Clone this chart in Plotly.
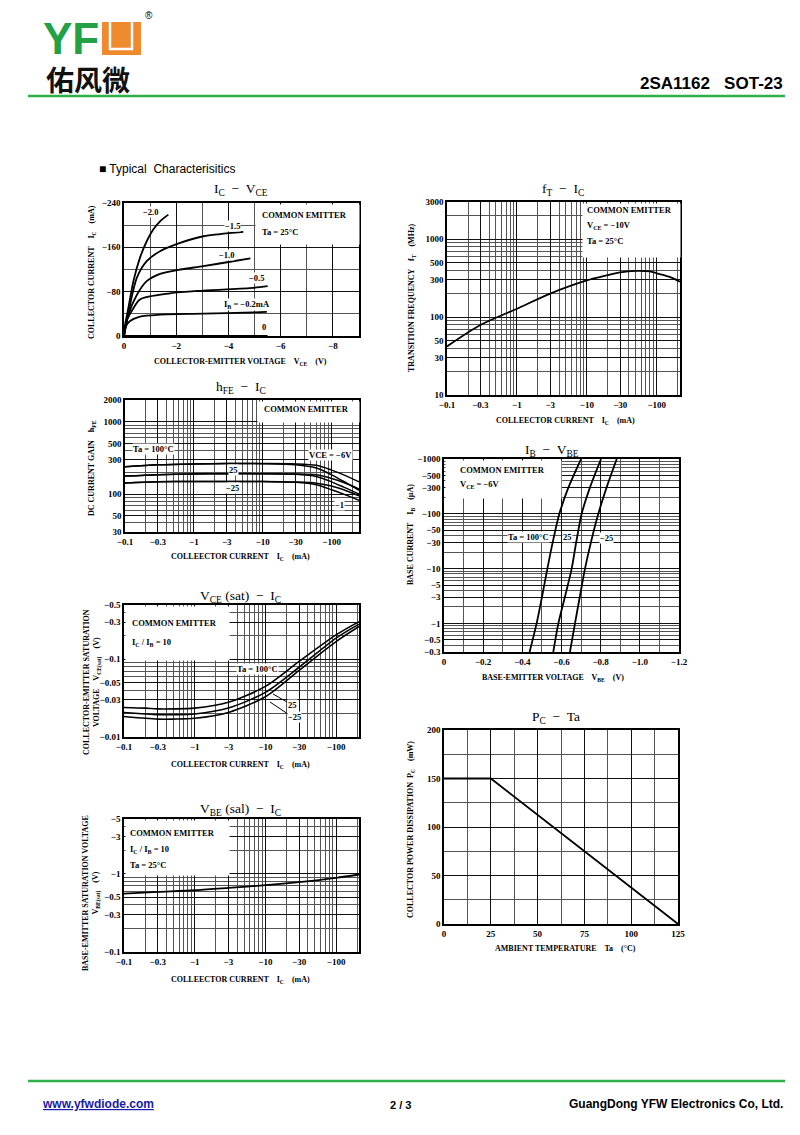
import math
import plotly.graph_objects as go

# page is 800x1135; the html body adds an 8px margin, so the figure is 792x1127 placed at (8,8)
OFF = 8
FW, FH = 800 - OFF, 1135 - OFF
SERIF = "Liberation Serif"
SANS = "Liberation Sans"
MINUS = "\u2212"

# ---------------- DATA ----------------
# Chart 1: IC - VCE  (VCE in V, IC in mA; negative values, PNP)
c1_v_ib20 = [0, -0.04, -0.165, -0.36, -0.61, -0.87, -1.12, -1.38, -1.70]
c1_i_ib20 = [0, -20, -50, -99, -141, -171, -192, -207, -219]
c1_v_ib15 = [0, -0.23, -0.49, -0.87, -1.38, -2.15, -3.04, -3.68, -4.57]
c1_i_ib15 = [0, -56, -105, -135, -153, -168, -180, -184, -188]
c1_v_ib10 = [0, -0.165, -0.49, -0.87, -1.38, -2.15, -3.04, -4.06, -4.84]
c1_i_ib10 = [0, -38, -74, -99, -112, -120, -126, -134, -140]
c1_v_ib05 = [0, -0.1, -0.36, -0.61, -1.76, -3.04, -4.95, -5.5]
c1_i_ib05 = [0, -27, -50, -66, -77, -82, -87, -90]
c1_v_ib02 = [0, -0.08, -0.23, -0.61, -1.38, -3.04, -4.95, -5.47]
c1_i_ib02 = [0, -18, -27, -35, -38.5, -40.3, -42.7, -43.5]
c1_v_ib00 = [0, -5.5]
c1_i_ib00 = [0, 0]

# Chart 2: hFE - IC  (|IC| in mA)
c2_ic = [0.1, 0.3, 1, 3, 10, 30, 60, 100, 150, 250]
c2_h100_6 = [240, 255, 262, 265, 265, 262, 250, 215, 185, 148]
c2_h100_1 = [240, 255, 262, 265, 264, 255, 230, 185, 150, 113]
c2_h25_6 = [178, 186, 190, 192, 192, 190, 185, 165, 145, 118]
c2_h25_1 = [178, 186, 190, 192, 191, 188, 175, 148, 125, 100]
c2_hm25_6 = [143, 148, 150, 150, 150, 147, 142, 130, 115, 95]
c2_hm25_1 = [143, 148, 150, 150, 149, 146, 135, 115, 100, 82]

# Chart 3: VCE(sat) - IC  (|IC| mA, |VCE(sat)| V)
c3_ic = [0.1, 0.2, 0.3, 0.5, 1, 3, 10, 30, 100, 211]
c3_v100 = [0.024, 0.0235, 0.023, 0.023, 0.0235, 0.028, 0.0448, 0.094, 0.206, 0.305]
c3_v25 = [0.0207, 0.0198, 0.0194, 0.0194, 0.0198, 0.0236, 0.0375, 0.079, 0.187, 0.283]
c3_vm25 = [0.0184, 0.0174, 0.017, 0.017, 0.0174, 0.0207, 0.033, 0.072, 0.169, 0.264]

# Chart 4: VBE(sat) - IC
c4_ic = [0.1, 0.3, 1, 3, 10, 30, 100, 211]
c4_vbe = [0.557, 0.585, 0.615, 0.66, 0.713, 0.78, 0.885, 0.977]

# Chart 5: fT - IC
c5_ic = [0.1, 0.3, 1, 3, 10, 20, 30, 50, 80, 100, 150, 215]
c5_ft = [42, 79, 128, 200, 295, 345, 375, 392, 385, 365, 330, 285]

# Chart 6: IB - VBE  (|IB| uA, VBE V)
c6_ib = [0.3, 1, 3, 10, 30, 100, 300, 1000]
c6_v100 = [-0.437, -0.473, -0.50, -0.528, -0.555, -0.589, -0.635, -0.70]
c6_v25 = [-0.558, -0.584, -0.617, -0.652, -0.675, -0.703, -0.745, -0.802]
c6_vm25 = [-0.643, -0.669, -0.693, -0.72, -0.75, -0.788, -0.83, -0.882]

# Chart 7: PC - Ta
c7_ta = [0, 25, 125]
c7_pc = [150, 150, 0]

# tick labels
log_ic_vals = [0.1, 0.3, 1, 3, 10, 30, 100]
log_ic_text = [MINUS + "0.1", MINUS + "0.3", MINUS + "1", MINUS + "3", MINUS + "10", MINUS + "30", MINUS + "100"]

# ---------------- HELPERS ----------------
def fx(x):
    return (x - OFF) / FW

def fy(y):
    return 1 - (y - OFF) / FH

def dom_x(a, b):
    return [fx(a), fx(b)]

def dom_y(top, bottom):
    return [fy(bottom), fy(top)]

TICKFONT = dict(family=SERIF, size=9, color="black", weight="bold")
MAJ = "#111111"
MIN = "#555555"

def log_minor(lo, hi):
    vals = []
    k = -2
    while 10 ** k <= hi * 10:
        for n in range(1, 10):
            v = n * 10 ** k
            if lo * 0.999 <= v <= hi * 1.001:
                vals.append(round(v, 6))
        k += 1
    return vals

def lin_axis(domain, rng, tickvals, ticktext, minor_dtick, anchor):
    return dict(domain=domain, range=rng, tickmode="array", tickvals=tickvals, ticktext=ticktext,
                showgrid=True, gridcolor=MAJ, gridwidth=1, zeroline=False, automargin=False,
                showline=True, mirror=True, linecolor="black", linewidth=1.6,
                ticks="", tickfont=TICKFONT, anchor=anchor,
                minor=dict(showgrid=True, dtick=minor_dtick, tick0=0, gridcolor=MIN, gridwidth=0.8, ticks=""))

def log_axis(domain, lo, hi, tickvals, ticktext, anchor):
    return dict(domain=domain, type="log", range=[math.log10(lo), math.log10(hi)],
                tickmode="array", tickvals=tickvals, ticktext=ticktext,
                showgrid=True, gridcolor=MAJ, gridwidth=1, zeroline=False, automargin=False,
                showline=True, mirror=True, linecolor="black", linewidth=1.6,
                ticks="", tickfont=TICKFONT, anchor=anchor,
                minor=dict(showgrid=True, tickmode="array", tickvals=log_minor(lo, hi),
                           gridcolor=MIN, gridwidth=0.8, ticks=""))

fig = go.Figure()

def line(x, y, n, width=1.8):
    xa = "x" if n == 1 else "x%d" % n
    ya = "y" if n == 1 else "y%d" % n
    fig.add_trace(go.Scatter(x=x, y=y, xaxis=xa, yaxis=ya, mode="lines",
                             line=dict(color="black", width=width, shape="spline", smoothing=0.8),
                             showlegend=False, hoverinfo="skip"))

annotations = []
shapes = []

def txt(text, x, y, size=9, xanchor="center", family=SERIF, bold=True, color="black",
        angle=0, bg=None, yanchor="middle"):
    a = dict(text=text, x=fx(x), y=fy(y), xref="paper", yref="paper", showarrow=False,
             xanchor=xanchor, yanchor=yanchor, textangle=angle,
             font=dict(family=family, size=size, color=color, weight="bold" if bold else "normal"))
    if bg:
        a["bgcolor"] = bg
        a["borderpad"] = 0
    annotations.append(a)

# plot-area pixel boxes (left, top, right, bottom)
BOX = {1: (124, 203, 359, 336), 2: (125, 400, 359, 532), 3: (124, 605, 359, 737),
       4: (124, 819, 359, 952), 5: (447, 202, 680, 395), 6: (444, 459, 679, 652),
       7: (444, 730, 678, 924)}

def white_box(x0, y0, x1, y1):
    # opaque white panel that hides the grid behind the legend text
    annotations.append(dict(text=" ", x=fx(x0), y=fy(y0), xref="paper", yref="paper",
                            xanchor="left", yanchor="top", showarrow=False,
                            width=x1 - x0, height=y1 - y0, bgcolor="white", borderpad=0,
                            font=dict(size=1)))

def hline(x0, x1, y, color, width):
    shapes.append(dict(type="line", xref="paper", yref="paper", x0=fx(x0), x1=fx(x1),
                       y0=fy(y), y1=fy(y), line=dict(color=color, width=width)))

# ---------------- TRACES ----------------
line(c1_v_ib20, c1_i_ib20, 1)
line(c1_v_ib15, c1_i_ib15, 1)
line(c1_v_ib10, c1_i_ib10, 1)
line(c1_v_ib05, c1_i_ib05, 1)
line(c1_v_ib02, c1_i_ib02, 1)
line(c1_v_ib00, c1_i_ib00, 1)

for s in [c2_h100_6, c2_h100_1, c2_h25_6, c2_h25_1, c2_hm25_6, c2_hm25_1]:
    line(c2_ic, s, 2, 1.5)

for s in [c3_v100, c3_v25, c3_vm25]:
    line(c3_ic, s, 3, 1.6)

line(c4_ic, c4_vbe, 4)
line(c5_ic, c5_ft, 5)

for s in [c6_v100, c6_v25, c6_vm25]:
    line(s, c6_ib, 6)

fig.add_trace(go.Scatter(x=c7_ta, y=c7_pc, xaxis="x7", yaxis="y7", mode="lines",
                         line=dict(color="black", width=1.8), showlegend=False, hoverinfo="skip"))

layout = dict(width=FW, height=FH, margin=dict(l=0, r=0, t=0, b=0, pad=0, autoexpand=False),
              template="none", paper_bgcolor="white", plot_bgcolor="white", showlegend=False)

def dx(n):
    return dom_x(BOX[n][0], BOX[n][2])

def dy(n):
    return dom_y(BOX[n][1], BOX[n][3])

layout["xaxis"] = lin_axis(dx(1), [0, -9], [0, -2, -4, -6, -8],
                           ["0", MINUS + "2", MINUS + "4", MINUS + "6", MINUS + "8"], 1, "y")
layout["yaxis"] = lin_axis(dy(1), [0, -240], [0, -80, -160, -240],
                           ["0", MINUS + "80", MINUS + "160", MINUS + "240"], 40, "x")

layout["xaxis2"] = log_axis(dx(2), 0.1, 250, log_ic_vals, log_ic_text, "y2")
layout["yaxis2"] = log_axis(dy(2), 30, 2000, [30, 50, 100, 300, 500, 1000, 2000],
                            ["30", "50", "100", "300", "500", "1000", "2000"], "x2")

layout["xaxis3"] = log_axis(dx(3), 0.1, 211, log_ic_vals, log_ic_text, "y3")
layout["yaxis3"] = log_axis(dy(3), 0.01, 0.5, [0.01, 0.03, 0.05, 0.1, 0.3, 0.5],
                            [MINUS + "0.01", MINUS + "0.03", MINUS + "0.05", MINUS + "0.1", MINUS + "0.3", MINUS + "0.5"], "x3")

layout["xaxis4"] = log_axis(dx(4), 0.1, 211, log_ic_vals, log_ic_text, "y4")
layout["yaxis4"] = log_axis(dy(4), 0.1, 5, [0.1, 0.3, 0.5, 1, 3, 5],
                            [MINUS + "0.1", MINUS + "0.3", MINUS + "0.5", MINUS + "1", MINUS + "3", MINUS + "5"], "x4")

layout["xaxis5"] = log_axis(dx(5), 0.1, 215, log_ic_vals, log_ic_text, "y5")
layout["yaxis5"] = log_axis(dy(5), 10, 3000, [10, 30, 50, 100, 300, 500, 1000, 3000],
                            ["10", "30", "50", "100", "300", "500", "1000", "3000"], "x5")

layout["xaxis6"] = lin_axis(dx(6), [0, -1.2], [0, -0.2, -0.4, -0.6, -0.8, -1.0, -1.2],
                            ["0", MINUS + "0.2", MINUS + "0.4", MINUS + "0.6", MINUS + "0.8", MINUS + "1.0", MINUS + "1.2"], 0.1, "y6")
layout["yaxis6"] = log_axis(dy(6), 0.3, 1000, [0.3, 0.5, 1, 3, 5, 10, 30, 50, 100, 300, 500, 1000],
                            [MINUS + "0.3", MINUS + "0.5", MINUS + "1", MINUS + "3", MINUS + "5", MINUS + "10",
                             MINUS + "30", MINUS + "50", MINUS + "100", MINUS + "300", MINUS + "500", MINUS + "1000"], "x6")

layout["xaxis7"] = lin_axis(dx(7), [0, 125], [0, 25, 50, 75, 100, 125],
                            ["0", "25", "50", "75", "100", "125"], 12.5, "y7")
layout["yaxis7"] = lin_axis(dy(7), [0, 200], [0, 50, 100, 150, 200],
                            ["0", "50", "100", "150", "200"], 25, "x7")

# ---------------- white boxes (inset 1px from plot border) ----------------
white_box(255, 204, 358, 243)
white_box(257, 401, 358, 421)
white_box(125, 606, 228, 659)
white_box(125, 820, 228, 874)
white_box(582, 203, 679, 256)
white_box(445, 460, 560, 497)

# ---------------- header / footer ----------------
txt("YF", 41, 38, size=44, xanchor="left", family=SANS, color="#22a146")
shapes.append(dict(type="rect", xref="paper", yref="paper", x0=fx(102), x1=fx(141),
                   y0=fy(55), y1=fy(22), fillcolor="#ef8a2e", line=dict(width=0)))
shapes.append(dict(type="path", xref="paper", yref="paper",
                   path="M %f,%f L %f,%f L %f,%f L %f,%f" % (fx(110), fy(22), fx(110), fy(49),
                                                             fx(132), fy(49), fx(132), fy(22)),
                   line=dict(color="white", width=2.5)))
txt("®", 149, 16, size=10, family=SANS, bold=False)
txt("佑风微", 44, 79, size=28, xanchor="left", family="Noto Sans CJK SC", color="#111111")
txt("2SA1162   SOT-23", 785, 83, size=17, xanchor="right", family=SANS)
hline(28, 785, 96, "#2eb04b", 2.5)
txt("■ Typical  Characterisitics", 97, 169, size=12, xanchor="left", family=SANS, bold=False)

hline(28, 785, 1081, "#2eb04b", 2.5)
txt("<u>www.yfwdiode.com</u>", 40, 1104, size=12, xanchor="left", family=SANS, color="#1a1aa8")
txt("2 / 3", 400, 1105, size=11, family=SANS)
txt("GuangDong YFW Electronics Co, Ltd.", 785, 1104, size=12, xanchor="right", family=SANS)

# ---------------- chart titles ----------------
TS = 13.5
txt("I<sub>C</sub>  \u2212  V<sub>CE</sub>", 241, 189, size=TS, bold=False)
txt("h<sub>FE</sub>  \u2212  I<sub>C</sub>", 241, 387, size=TS, bold=False)
txt("V<sub>CE</sub> (sat)  \u2212  I<sub>C</sub>", 240, 596, size=TS, bold=False)
txt("V<sub>BE</sub> (sal)  \u2212  I<sub>C</sub>", 240, 809, size=TS, bold=False)
txt("f<sub>T</sub>  \u2212  I<sub>C</sub>", 563, 189, size=TS, bold=False)
txt("I<sub>B</sub>  \u2212  V<sub>BE</sub>", 552, 450, size=TS, bold=False)
txt("P<sub>C</sub>  \u2212  Ta", 556, 717, size=TS, bold=False)

# ---------------- axis titles ----------------
AS = 8
txt("COLLECTOR-EMITTER VOLTAGE    V<sub>CE</sub>    (V)", 241, 362, size=AS)
txt("COLLEECTOR CURRENT    I<sub>C</sub>    (mA)", 241, 557, size=AS)
txt("COLLEECTOR CURRENT    I<sub>C</sub>    (mA)", 241, 765, size=AS)
txt("COLLEECTOR CURRENT    I<sub>C</sub>    (mA)", 241, 980, size=AS)
txt("COLLEECTOR CURRENT    I<sub>C</sub>    (mA)", 565, 421, size=AS)
txt("BASE-EMITTER VOLTAGE    V<sub>BE</sub>    (V)", 553, 678, size=AS)
txt("AMBIENT TEMPERATURE    Ta    (\u00b0C)", 565, 948, size=AS)

txt("COLLECTOR CURRENT    I<sub>C</sub>    (mA)", 92, 272, size=AS, angle=-90)
txt("DC CURRENT GAIN    h<sub>FE</sub>", 92, 468, size=AS, angle=-90)
txt("COLLECTOR-EMITTER SATURATION<br>VOLTAGE    V<sub>CE(sat)</sub>    (V)", 92, 682, size=AS, angle=-90)
txt("BASE-EMITTER SATURATION VOLTAGE<br>V<sub>BE(sat)</sub>    (V)", 91, 893, size=AS, angle=-90)
txt("TRANSITION FREQUENCY    f<sub>T</sub>    (MHz)", 412, 298, size=AS, angle=-90)
txt("BASE CURRENT    I<sub>B</sub>    (\u00b5A)", 411, 535, size=AS, angle=-90)
txt("COLLECTOR POWER DISSIPATION  P<sub>C</sub>    (mW)", 411, 830, size=AS, angle=-90)

# ---------------- in-chart labels ----------------
LS = 8.5
txt("COMMON EMITTER", 260, 215, size=LS, xanchor="left")
txt("Ta = 25\u00b0C", 260, 232, size=LS, xanchor="left")
txt(MINUS + "2.0", 150, 212, size=LS, bg="white")
txt(MINUS + "1.5", 232, 226, size=LS, bg="white")
txt(MINUS + "1.0", 227, 255, size=LS, bg="white")
txt(MINUS + "0.5", 256, 278, size=LS, bg="white")
txt("I<sub>B</sub> = " + MINUS + "0.2mA", 247, 305, size=LS, bg="white")
txt("0", 264, 327, size=LS, bg="white")

txt("COMMON EMITTER", 262, 409, size=LS, xanchor="left")
txt("Ta = 100\u00b0C", 153, 449, size=LS, bg="white")
txt("25", 233, 470, size=LS, bg="white")
txt(MINUS + "25", 232, 488, size=LS, bg="white")
txt("VCE = " + MINUS + "6V", 330, 455, size=LS, bg="white")
txt(MINUS + "1", 339, 505, size=LS, bg="white")

txt("COMMON EMITTER", 130, 623, size=LS, xanchor="left")
txt("I<sub>C</sub> / I<sub>B</sub> = 10", 130, 642, size=LS, xanchor="left")
txt("Ta = 100\u00b0C", 258, 669, size=LS, bg="white")
txt("25", 292, 705, size=LS, bg="white")
txt(MINUS + "25", 294, 717, size=LS, bg="white")

txt("COMMON EMITTER", 128, 833, size=LS, xanchor="left")
txt("I<sub>C</sub> / I<sub>B</sub> = 10", 128, 849, size=LS, xanchor="left")
txt("Ta = 25\u00b0C", 128, 865, size=LS, xanchor="left")

txt("COMMON EMITTER", 585, 210, size=LS, xanchor="left")
txt("V<sub>CE</sub> = " + MINUS + "10V", 585, 226, size=LS, xanchor="left")
txt("Ta = 25\u00b0C", 585, 241, size=LS, xanchor="left")

txt("COMMON EMITTER", 458, 470, size=LS, xanchor="left")
txt("V<sub>CE</sub> = " + MINUS + "6V", 458, 485, size=LS, xanchor="left")
txt("Ta = 100\u00b0C", 528, 537, size=LS, bg="white")
txt("25", 567, 537, size=LS, bg="white")
txt(MINUS + "25", 606, 538, size=LS, bg="white")

for (tx, ty, cx, cy) in [(287, 702, 273, 694), (288, 714, 270, 702)]:
    shapes.append(dict(type="line", xref="paper", yref="paper", x0=fx(tx), y0=fy(ty),
                       x1=fx(cx), y1=fy(cy), line=dict(color="black", width=1)))

layout["annotations"] = annotations
layout["shapes"] = shapes
fig.update_layout(**layout)
fig.write_html("out.html")
